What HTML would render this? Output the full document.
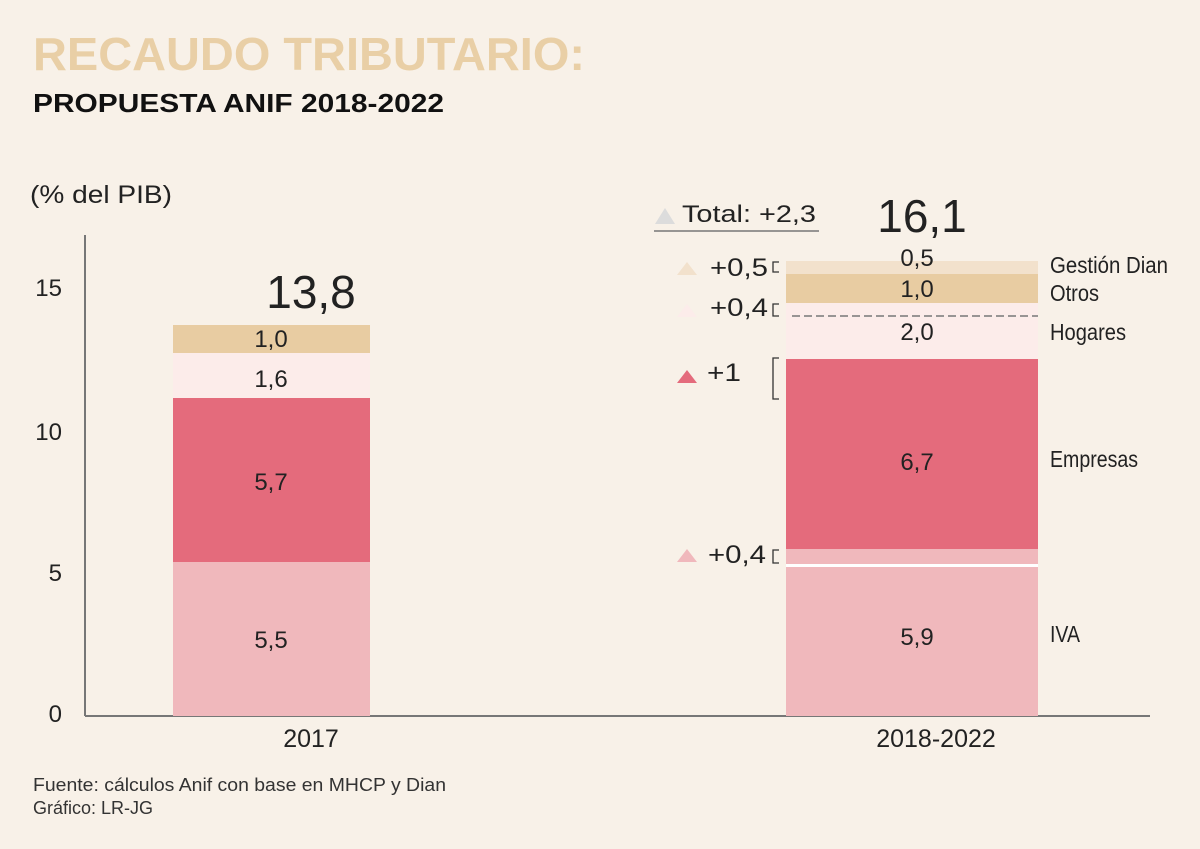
<!DOCTYPE html>
<html><head><meta charset="utf-8"><style>
html,body{margin:0;padding:0;background:#f8f1e8;}
svg{display:block;font-family:"Liberation Sans",sans-serif;}
</style></head><body>
<svg width="1200" height="849" viewBox="0 0 1200 849" xmlns="http://www.w3.org/2000/svg">
<rect width="1200" height="849" fill="#f8f1e8"/>
<text x="33" y="70" font-size="46" font-weight="bold" fill="#e9cfa6" textLength="552" lengthAdjust="spacingAndGlyphs">RECAUDO TRIBUTARIO:</text>
<text x="33" y="112" font-size="26" font-weight="bold" fill="#111" textLength="411" lengthAdjust="spacingAndGlyphs">PROPUESTA ANIF 2018-2022</text>
<text x="30" y="203" font-size="25" fill="#222" textLength="142" lengthAdjust="spacingAndGlyphs">(% del PIB)</text>
<g font-size="24" fill="#222" text-anchor="end">
<text x="62" y="296">15</text><text x="62" y="440">10</text><text x="62" y="581">5</text><text x="62" y="722">0</text>
</g>
<line x1="85" y1="235" x2="85" y2="716" stroke="#777" stroke-width="2"/>
<line x1="85" y1="716" x2="1150" y2="716" stroke="#777" stroke-width="2"/>
<rect x="173" y="562" width="197" height="154" fill="#f0b8bc"/>
<rect x="173" y="398" width="197" height="164" fill="#e46b7c"/>
<rect x="173" y="353" width="197" height="45" fill="#fcecea"/>
<rect x="173" y="325" width="197" height="28" fill="#e8cca2"/>
<g font-size="24" fill="#222" text-anchor="middle">
<text x="271" y="648">5,5</text><text x="271" y="490">5,7</text><text x="271" y="387">1,6</text><text x="271" y="347">1,0</text>
<text x="311" y="308" font-size="46">13,8</text>
<text x="311" y="747" font-size="25">2017</text>
</g>
<rect x="786" y="567" width="252" height="149" fill="#f0b8bc"/>
<rect x="786" y="549" width="252" height="15" fill="#f0b8bc"/>
<rect x="786" y="564" width="252" height="3" fill="#fff"/>
<rect x="786" y="359" width="252" height="190" fill="#e46b7c"/>
<rect x="786" y="303" width="252" height="56" fill="#fcecea"/>
<line x1="792" y1="316" x2="1038" y2="316" stroke="#777" stroke-width="1.5" stroke-dasharray="8,4"/>
<rect x="786" y="274" width="252" height="29" fill="#e8cca2"/>
<rect x="786" y="261" width="252" height="13" fill="#f2e1cc"/>
<g font-size="24" fill="#222" text-anchor="middle">
<text x="917" y="645">5,9</text><text x="917" y="470">6,7</text><text x="917" y="340">2,0</text><text x="917" y="297">1,0</text><text x="917" y="266">0,5</text>
<text x="922" y="232" font-size="46">16,1</text>
<text x="936" y="747" font-size="25">2018-2022</text>
</g>
<g font-size="23" fill="#222" lengthAdjust="spacingAndGlyphs">
<text x="1050" y="273" textLength="118" lengthAdjust="spacingAndGlyphs">Gestión Dian</text>
<text x="1050" y="301" textLength="49" lengthAdjust="spacingAndGlyphs">Otros</text>
<text x="1050" y="340" textLength="76" lengthAdjust="spacingAndGlyphs">Hogares</text>
<text x="1050" y="467" textLength="88" lengthAdjust="spacingAndGlyphs">Empresas</text>
<text x="1050" y="642" textLength="30" lengthAdjust="spacingAndGlyphs">IVA</text>
</g>
<polygon points="655,224 665,208 675,224" fill="#dcdcdc"/>
<text x="682" y="222" font-size="24" fill="#222" textLength="134" lengthAdjust="spacingAndGlyphs">Total: +2,3</text>
<line x1="654" y1="231" x2="819" y2="231" stroke="#777" stroke-width="1.5"/>
<g font-size="25" fill="#222">
<polygon points="677,275 687,262 697,275" fill="#f2e1cc"/><text x="710" y="276" textLength="58" lengthAdjust="spacingAndGlyphs">+0,5</text>
<polygon points="677,317 687,304 697,317" fill="#fcecea"/><text x="710" y="316" textLength="58" lengthAdjust="spacingAndGlyphs">+0,4</text>
<polygon points="677,383 687,370 697,383" fill="#e46b7c"/><text x="707" y="381" textLength="34" lengthAdjust="spacingAndGlyphs">+1</text>
<polygon points="677,562 687,549 697,562" fill="#f0b8bc"/><text x="708" y="563" textLength="58" lengthAdjust="spacingAndGlyphs">+0,4</text>
</g>
<g stroke="#333" stroke-width="1.3" fill="none">
<polyline points="779,262 773,262 773,272 779,272"/>
<polyline points="779,304 773,304 773,316 779,316"/>
<polyline points="779,358 773,358 773,399 779,399"/>
<polyline points="779,550 773,550 773,563 779,563"/>
</g>
<text x="33" y="791" font-size="18" fill="#333" textLength="413" lengthAdjust="spacingAndGlyphs">Fuente: cálculos Anif con base en MHCP y Dian</text>
<text x="33" y="814" font-size="18" fill="#333">Gráfico: LR-JG</text>
</svg>
</body></html>
